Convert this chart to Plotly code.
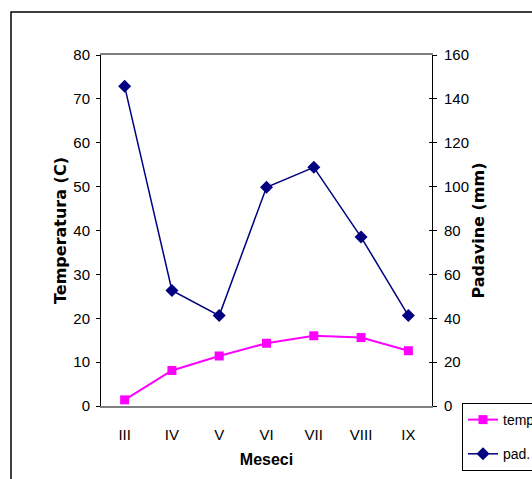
import plotly.graph_objects as go

months = ["III", "IV", "V", "VI", "VII", "VIII", "IX"]
temp = [1.4, 8.1, 11.4, 14.3, 16.0, 15.6, 12.6]
pad = [145.7, 52.7, 41.2, 99.7, 108.8, 77.0, 41.2]
temp_ticks = [0, 10, 20, 30, 40, 50, 60, 70, 80]
pad_ticks = [0, 20, 40, 60, 80, 100, 120, 140, 160]

# the page margin is removed (see post_script), so figure px == page px
OFF = 0
W, H = 532, 479
# plot area in page pixels: x 101..432, y 55..406
L = 101 - OFF
T = 55 - OFF
pw = 432 - 101
ph = 406 - 55
R = W - L - pw
B = H - T - ph

def px(x):
    return (x - OFF - L) / pw

def py(y):
    return (T + ph - (y - OFF)) / ph

tick_font = dict(family="Liberation Sans, Arial, sans-serif", size=15, color="black")
legend_font = dict(family="Liberation Sans, Arial, sans-serif", size=14, color="black")
title_font = dict(family="DejaVu Sans, Arial, sans-serif", size=16, color="black", weight="bold")

fig = go.Figure()
fig.add_trace(go.Scatter(
    x=months, y=temp, name="temp", mode="lines+markers", legendgroup="a",
    line=dict(color="#FF00FF", width=2),
    marker=dict(symbol="square", size=9, color="#FF00FF"),
    yaxis="y"))
fig.add_trace(go.Scatter(
    x=months, y=pad, name="pad.", mode="lines+markers", legendgroup="b",
    line=dict(color="#000080", width=1.5),
    marker=dict(symbol="diamond", size=10, color="#000080"),
    yaxis="y2"))
# invisible trace to activate the inside ticks of the right axis
fig.add_trace(go.Scatter(x=[months[0]], y=[0], yaxis="y3", mode="markers",
                         marker=dict(opacity=0), showlegend=False, hoverinfo="skip"))

fig.update_layout(
    width=W, height=H,
    margin=dict(l=L, r=R, t=T, b=B, autoexpand=False),
    paper_bgcolor="white", plot_bgcolor="white",
    showlegend=True,
    legend=dict(
        x=px(462), y=py(403), xanchor="left", yanchor="top",
        bordercolor="black", borderwidth=1, bgcolor="white",
        font=legend_font, tracegroupgap=13, traceorder="grouped",
    ),
    xaxis=dict(
        type="category", range=[-0.5, 6.5],
        showline=True, linecolor="#808080", linewidth=1.5, mirror=True,
        ticks="", showgrid=False, zeroline=False,
        tickfont=tick_font, ticklabelstandoff=14,
        title=dict(text="Meseci", font=dict(family="Liberation Sans, Arial, sans-serif", size=16, color="black", weight="bold"), standoff=12),
    ),
    yaxis=dict(
        range=[0, 80], tickvals=temp_ticks,
        showline=True, linecolor="black", linewidth=1,
        ticks="outside", ticklen=4, tickcolor="black",
        showgrid=False, zeroline=False, tickfont=tick_font, ticklabelstandoff=3,
        title=dict(text="Temperatura (C)", font=title_font, standoff=2),
    ),
    yaxis2=dict(
        range=[0, 160], tickvals=pad_ticks, overlaying="y", side="right",
        showline=True, linecolor="black", linewidth=1,
        ticks="outside", ticklen=4, tickcolor="black",
        showgrid=False, zeroline=False, tickfont=tick_font, ticklabelstandoff=4,
        title=dict(text="Padavine (mm)", font=title_font, standoff=4),
    ),
    yaxis3=dict(
        range=[0, 160], tickvals=pad_ticks, overlaying="y", side="right",
        showline=False, ticks="inside", ticklen=3, tickcolor="black",
        showticklabels=False, showgrid=False, zeroline=False,
    ),
    shapes=[dict(
        type="rect", xref="paper", yref="paper",
        x0=px(11), x1=px(560), y0=py(500), y1=py(12),
        line=dict(color="black", width=1.5), fillcolor="rgba(0,0,0,0)", layer="below",
    )],
)

# remove the default page margin and scrollbars so the figure fills the window
fig.write_html(
    "out.html",
    config={"displayModeBar": False},
    post_script="document.body.style.margin='0';document.documentElement.style.overflow='hidden';document.body.style.overflow='hidden';",
)
